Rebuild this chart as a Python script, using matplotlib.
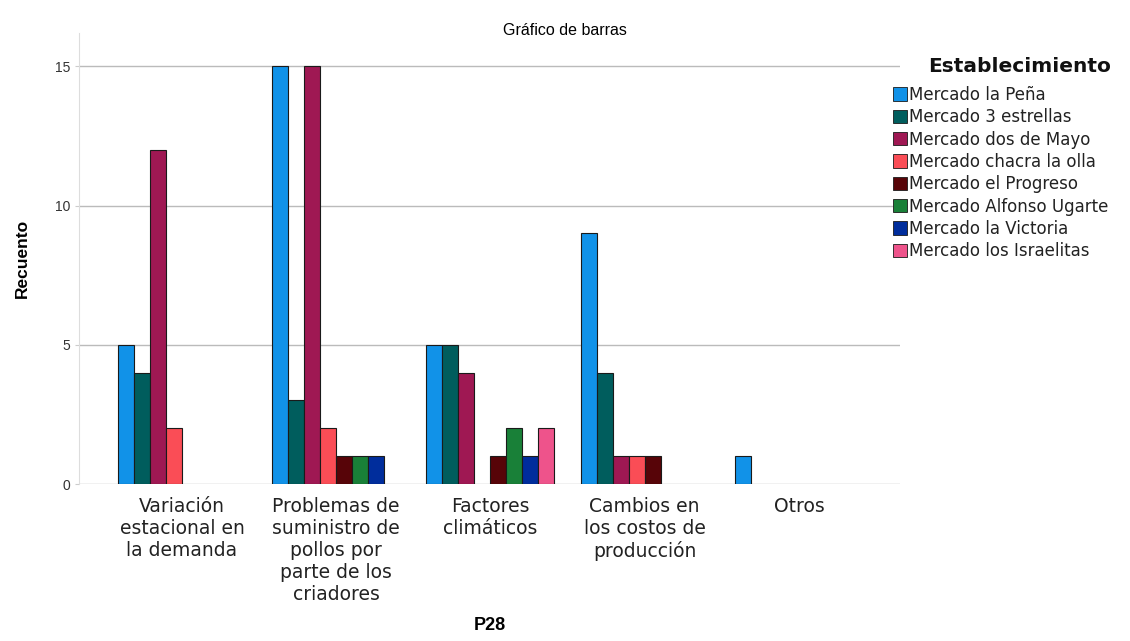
import matplotlib
matplotlib.use("Agg")
import matplotlib.pyplot as plt
from matplotlib.patches import Patch
import numpy as np

plt.rcParams['font.family'] = ['Liberation Sans', 'DejaVu Sans']

categories = ["Variación\nestacional en\nla demanda",
              "Problemas de\nsuministro de\npollos por\nparte de los\ncriadores",
              "Factores\nclimáticos",
              "Cambios en\nlos costos de\nproducción",
              "Otros"]
series_names = ["Mercado la Peña", "Mercado 3 estrellas", "Mercado dos de Mayo",
                "Mercado chacra la olla", "Mercado el Progreso", "Mercado Alfonso Ugarte",
                "Mercado la Victoria", "Mercado los Israelitas"]
colors = ["#1192e8", "#005d5d", "#9f1853", "#fa4d56", "#570408", "#198038", "#002d9c", "#ee538b"]

pena       = [5, 15, 5, 9, 1]
estrellas  = [4, 3, 5, 4, 0]
dos_mayo   = [12, 15, 4, 1, 0]
chacra     = [2, 2, 0, 1, 0]
progreso   = [0, 1, 1, 1, 0]
alfonso    = [0, 1, 2, 0, 0]
victoria   = [0, 1, 1, 0, 0]
israelitas = [0, 0, 2, 0, 0]
series = [pena, estrellas, dos_mayo, chacra, progreso, alfonso, victoria, israelitas]

fig = plt.figure(figsize=(11.3, 6.41), dpi=100)
ax = fig.add_axes([0.0699, 0.2449, 0.7265, 0.7036])

n = len(series)
w = 0.1037
x = np.arange(len(categories))
for j, (vals, c) in enumerate(zip(series, colors)):
    vals = np.array(vals, dtype=float)
    xs = x + (j - (n - 1) / 2) * w
    m = vals > 0
    ax.bar(xs[m], vals[m], width=w, color=c, edgecolor="#1a1a1a", linewidth=0.8, zorder=3)

ax.set_xlim(-0.668, 4.655)
ax.set_ylim(0, 16.2)
ax.set_yticks([0, 5, 10, 15])
ax.set_xticks(x)
ax.set_xticklabels(categories, fontsize=13.5, color="#222222", linespacing=1.2,
                   family=['DejaVu Sans'])
ax.tick_params(axis='x', length=0, pad=9)
ax.tick_params(axis='y', length=3, color="#cccccc", labelsize=10, labelcolor="#333333")
ax.yaxis.grid(True, color="#bbbbbb", linewidth=1.0, zorder=0)
for s in ["top", "right", "bottom"]:
    ax.spines[s].set_visible(False)
ax.spines["left"].set_color("#dddddd")

ax.set_ylabel("Recuento", fontsize=12.5, fontweight="bold", labelpad=18)
ax.set_xlabel("P28", fontsize=13, fontweight="bold", labelpad=10)
fig.text(0.5, 0.953, "Gráfico de barras", ha="center", va="center", fontsize=11.5)

fig.text(0.9027, 0.8955, "Establecimiento", ha="center", va="center",
         family="DejaVu Sans", fontweight="bold", fontsize=14.5, color="#111111")
handles = [Patch(facecolor=c, edgecolor="#1a1a1a", linewidth=0.6) for c in colors]
leg = fig.legend(handles, series_names, loc="upper left", bbox_to_anchor=(0.79, 0.866),
                 frameon=False, prop={"family": "DejaVu Sans", "size": 12},
                 handlelength=0.85, handleheight=0.85, handletextpad=0.15, labelspacing=0.26,
                 borderaxespad=0, borderpad=0)
for t in leg.get_texts():
    t.set_color("#222222")

fig.savefig("out.png", dpi=100)
